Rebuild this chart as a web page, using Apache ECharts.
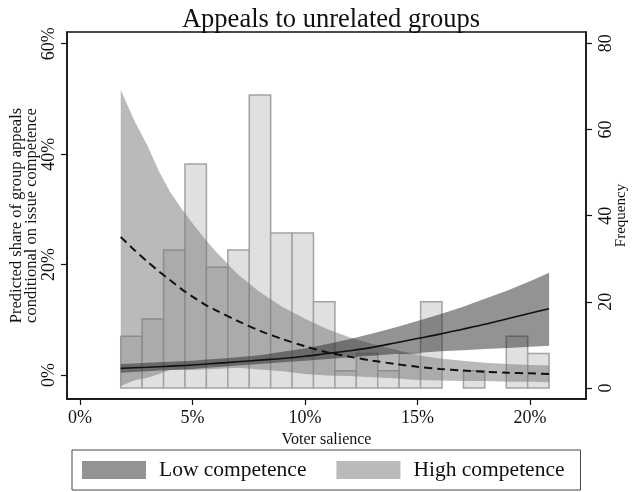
<!DOCTYPE html>
<html>
<head>
<meta charset="utf-8">
<script src="https://cdn.jsdelivr.net/npm/echarts@6/dist/echarts.min.js"></script>
<style>
  html, body { margin: 0; padding: 0; background: #fff; }
  #chart { width: 633px; height: 492px; }
</style>
</head>
<body>
<div id="chart"></div>
<script>
// Voter salience (%) at which the predicted shares are evaluated
const salience = [1.81, 2.4, 3, 3.5, 4, 4.5, 5, 5.5, 6, 7, 8, 9, 10, 11, 12, 13, 14, 15, 16, 17, 18, 19, 20, 20.85];

// Low competence: predicted share (%) with confidence bounds
const lowFit   = [1.2, 1.3, 1.4, 1.5, 1.6, 1.7, 1.8, 1.95, 2.1, 2.4, 2.7, 3.0, 3.4, 3.9, 4.4, 5.0, 5.8, 6.6, 7.4, 8.3, 9.2, 10.2, 11.2, 12.0];
const lowLower = [0.4, 0.55, 0.7, 0.8, 0.9, 1.0, 1.1, 1.25, 1.4, 1.7, 2.0, 2.3, 2.6, 2.9, 3.2, 3.5, 3.8, 4.0, 4.3, 4.5, 4.7, 4.9, 5.1, 5.3];
const lowUpper = [2.0, 2.1, 2.2, 2.3, 2.4, 2.5, 2.6, 2.75, 2.9, 3.2, 3.6, 4.2, 4.8, 5.6, 6.5, 7.5, 8.6, 9.8, 11.0, 12.3, 13.8, 15.3, 17.0, 18.5];

// High competence: predicted share (%) with confidence bounds
const highFit   = [25.0, 22.7, 20.5, 18.8, 17.2, 15.6, 14.2, 12.9, 11.8, 9.8, 8.0, 6.5, 5.2, 4.1, 3.3, 2.6, 2.0, 1.5, 1.1, 0.8, 0.6, 0.4, 0.3, 0.2];
const highLower = [-2.0, -1.0, -0.5, 0.2, 0.9, 0.9, 0.9, 1.0, 1.1, 1.3, 1.0, 0.7, 0.2, -0.1, -0.2, -0.4, -0.6, -0.9, -1.0, -1.1, -1.1, -1.2, -1.2, -1.3];
const highUpper = [51.6, 46.2, 41.5, 37.0, 33.2, 30.2, 27.5, 24.9, 22.5, 18.3, 15.0, 12.3, 10.2, 8.3, 6.8, 5.6, 4.6, 3.6, 3.0, 2.6, 2.2, 2.0, 1.8, 1.7];

// Histogram of observed voter salience
const binStart = 1.81;
const binWidth = 0.952;
const frequency = [12, 16, 32, 52, 28, 32, 68, 36, 36, 20, 4, 8, 4, 8, 20, 0, 4, 0, 12, 8];

// Axis tick values
const xTicks = [0, 5, 10, 15, 20];
const shareTicks = [0, 20, 40, 60];
const freqTicks = [0, 20, 40, 60, 80];

const FONT = 'Liberation Serif';

function band(name, lower, upper, fill) {
  return {
    type: 'custom',
    name: name,
    xAxisIndex: 0,
    yAxisIndex: 0,
    silent: true,
    clip: true,
    z: 3,
    data: salience.map((x, i) => [x, lower[i], upper[i]]),
    encode: { x: 0, y: [1, 2] },
    renderItem: function (params, api) {
      if (params.dataIndex !== 0) return null;
      const top = salience.map((x, i) => api.coord([x, upper[i]]));
      const bottom = salience.map((x, i) => api.coord([x, lower[i]])).reverse();
      return {
        type: 'polygon',
        shape: { points: top.concat(bottom) },
        style: { fill: fill }
      };
    }
  };
}

function fitLine(values, dashed) {
  return {
    type: 'line',
    xAxisIndex: 0,
    yAxisIndex: 0,
    silent: true,
    showSymbol: false,
    smooth: 0.3,
    z: 4,
    data: salience.map((x, i) => [x, values[i]]),
    lineStyle: {
      color: '#111',
      width: dashed ? 2 : 1.6,
      type: dashed ? [8, 5] : 'solid'
    }
  };
}

const chart = echarts.init(document.getElementById('chart'), null, { renderer: 'canvas' });

const axisLineStyle = { show: true, onZero: false, lineStyle: { color: '#111', width: 1.5 } };

chart.setOption({
  backgroundColor: '#fff',
  animation: false,
  title: {
    text: 'Appeals to unrelated groups',
    left: 326,
    textAlign: 'center',
    top: 2,
    textStyle: { fontFamily: FONT, fontSize: 26.5, fontWeight: 'normal', color: '#111' }
  },
  grid: {
    left: 67, right: 47, top: 32, bottom: 93,
    containLabel: false,
    outerBoundsMode: 'none',
    show: true, borderColor: '#111', borderWidth: 1.5, backgroundColor: 'transparent'
  },
  legend: {
    left: 72, top: 450,
    orient: 'horizontal',
    selectedMode: false,
    itemWidth: 64, itemHeight: 18, itemGap: 30,
    padding: [9, 16, 9, 10],
    borderColor: '#444', borderWidth: 1,
    textStyle: { fontFamily: FONT, fontSize: 21.5, color: '#111', padding: [0, 0, 0, 8] },
    data: [
      { name: 'Low competence', icon: 'rect', itemStyle: { color: '#939393', opacity: 1 } },
      { name: 'High competence', icon: 'rect', itemStyle: { color: '#bababa', opacity: 1 } }
    ]
  },
  xAxis: {
    type: 'value',
    min: -0.578, max: 22.49,
    name: 'Voter salience',
    nameLocation: 'middle',
    nameMoveOverlap: false,
    nameGap: 33,
    nameTextStyle: { fontFamily: FONT, fontSize: 16, color: '#111' },
    axisLine: axisLineStyle,
    axisTick: { show: true, length: 6, customValues: xTicks, lineStyle: { color: '#111', width: 1.2 } },
    axisLabel: {
      customValues: xTicks, margin: 10,
      fontFamily: FONT, fontSize: 18, color: '#111',
      formatter: v => v + '%'
    },
    splitLine: { show: false }
  },
  yAxis: [
    {
      type: 'value',
      position: 'left',
      min: -4.346, max: 62.12,
      name: 'Predicted share of group appeals\nconditional on issue competence',
      nameLocation: 'middle',
      nameMoveOverlap: false,
      nameRotate: 90,
      nameGap: 28,
      nameTextStyle: { fontFamily: FONT, fontSize: 16.5, color: '#111', lineHeight: 15 },
      axisLine: axisLineStyle,
      axisTick: { show: true, length: 6, customValues: shareTicks, lineStyle: { color: '#111', width: 1.2 } },
      axisLabel: {
        customValues: shareTicks, rotate: 90, margin: 9,
        fontFamily: FONT, fontSize: 18, color: '#111',
        formatter: v => v + '%'
      },
      splitLine: { show: false }
    },
    {
      type: 'value',
      position: 'right',
      min: -2.553, max: 82.62,
      name: 'Frequency',
      nameLocation: 'middle',
      nameMoveOverlap: false,
      nameRotate: 90,
      nameGap: 28,
      nameTextStyle: { fontFamily: FONT, fontSize: 15, color: '#111' },
      axisLine: axisLineStyle,
      axisTick: { show: true, length: 6, customValues: freqTicks, lineStyle: { color: '#111', width: 1.2 } },
      axisLabel: {
        customValues: freqTicks, rotate: 90, margin: 11,
        fontFamily: FONT, fontSize: 18, color: '#111'
      },
      splitLine: { show: false }
    }
  ],
  series: [
    {
      type: 'custom',
      name: 'Frequency',
      xAxisIndex: 0,
      yAxisIndex: 1,
      silent: true,
      z: 2,
      data: frequency.map((f, i) => [binStart + i * binWidth, binStart + (i + 1) * binWidth, f]),
      encode: { x: [0, 1], y: 2 },
      renderItem: function (params, api) {
        if (api.value(2) <= 0) return null;
        const p0 = api.coord([api.value(0), api.value(2)]);
        const p1 = api.coord([api.value(1), 0]);
        return {
          type: 'rect',
          shape: { x: p0[0], y: p0[1], width: p1[0] - p0[0], height: p1[1] - p0[1] },
          style: { fill: '#e0e0e0', stroke: '#a3a3a3', lineWidth: 1.5 }
        };
      }
    },
    band('High competence', highLower, highUpper, 'rgba(117,117,117,0.5)'),
    band('Low competence', lowLower, lowUpper, 'rgba(39,39,39,0.5)'),
    fitLine(highFit, true),
    fitLine(lowFit, false)
  ]
});
</script>
</body>
</html>
